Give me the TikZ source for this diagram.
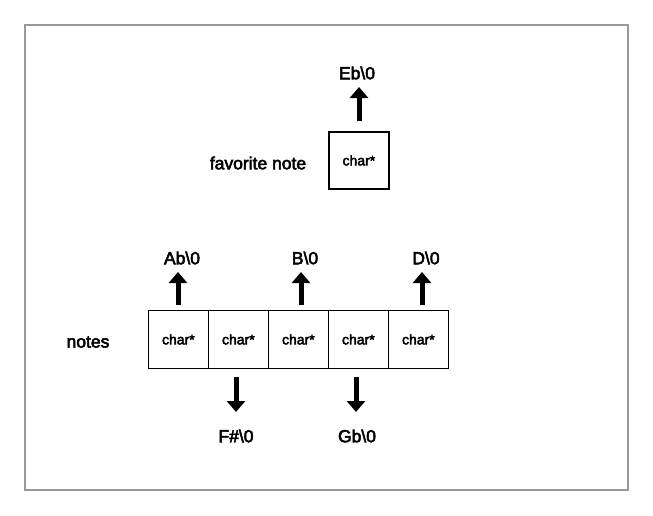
\documentclass[tikz,border=0pt]{standalone}
\usepackage{fontspec}
\setmainfont{Liberation Sans}
\newfontfamily\medfont{Liberation Sans}[FakeBold=3]
\usetikzlibrary{arrows.meta}
\begin{document}
\begin{tikzpicture}[x=1pt,y=-1pt,
  cell/.style={draw=black,line width=1.8pt,minimum width=60pt,minimum height=58pt,inner sep=0pt,font=\medfont\fontsize{14}{16}\selectfont,anchor=north west},
  lbl/.style={inner sep=0pt,font=\medfont\fontsize{17.5}{20}\selectfont},
  fat/.style={line width=5pt,-{Triangle[length=11pt,width=18pt]}}]
\useasboundingbox (0,0) rectangle (653,515);
\draw[draw=black!40,line width=2pt] (25,25) rectangle (628,490);
% favorite note
\node[cell,minimum width=60pt,minimum height=57pt] (fav) at (328,131) {char*};
\node[lbl] (favl) at (258,163) {favorite note};
\node[lbl] (eb) at (357,73) {Eb\textbackslash 0};
\coordinate (ebt) at (359,87);
\draw[fat] (359,121) -- (ebt);
% notes row
\node[lbl] (notesl) at (88,342) {notes};
\node[cell] (c1) at (147.5,309.5) {char*};
\node[cell] (c2) at (207.5,309.5) {char*};
\node[cell] (c3) at (267.5,309.5) {char*};
\node[cell] (c4) at (327.5,309.5) {char*};
\node[cell] (c5) at (387.5,309.5) {char*};
% labels
\node[lbl] (ab) at (182,258) {Ab\textbackslash 0};
\node[lbl] (b) at (305,258) {B\textbackslash 0};
\node[lbl] (d) at (426,258) {D\textbackslash 0};
\node[lbl] (fs) at (236,436) {F\#\textbackslash 0};
\node[lbl] (gb) at (357,436) {Gb\textbackslash 0};
% arrows
\coordinate (abt) at (178,272);
\coordinate (bt) at (301,272);
\coordinate (dt) at (422,272);
\coordinate (fst) at (236,412);
\coordinate (gbt) at (356,412);
\draw[fat] (178,305) -- (abt);
\draw[fat] (301,305) -- (bt);
\draw[fat] (422,305) -- (dt);
\draw[fat] (236,377) -- (fst);
\draw[fat] (356,377) -- (gbt);
\end{tikzpicture}
\end{document}
